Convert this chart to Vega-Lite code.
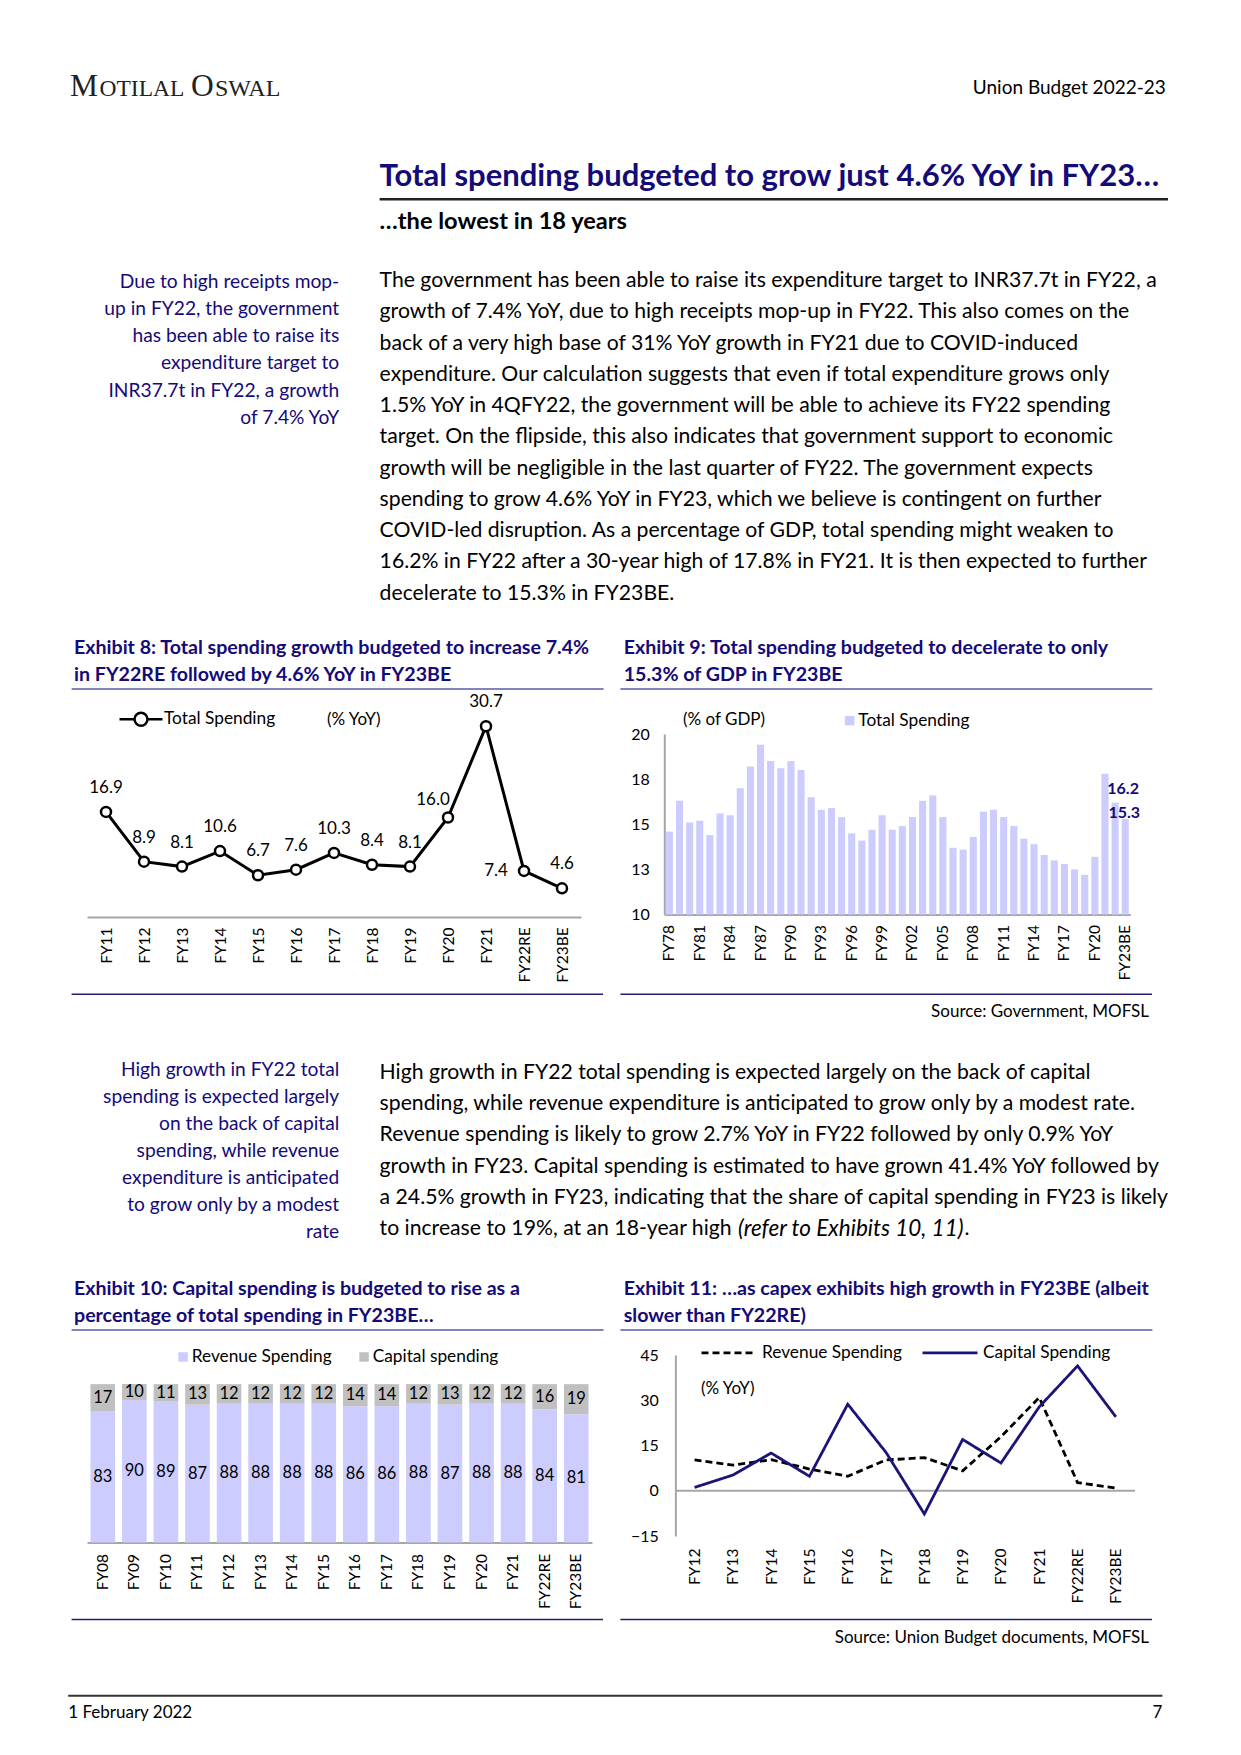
{
  "$schema": "https://vega.github.io/schema/vega-lite/v6.json",
  "background": "white",
  "padding": 0,
  "bounds": "flush",
  "spacing": 0,
  "resolve": {"scale": {"color": "independent", "strokeDash": "independent"}, "legend": {"color": "independent", "strokeDash": "independent"}},
  "config": {
    "view": {"stroke": null},
    "font": "Lato",
    "axis": {"labelFont": "Lato", "labelColor": "#000000", "grid": false, "ticks": false, "tickSize": 0, "title": null, "domainColor": "#A6A6A6", "domainWidth": 2},
    "legend": {"labelFont": "Lato", "labelColor": "#000000", "labelFontSize": 17.3, "padding": 0, "title": null},
    "text": {"font": "Lato"}
  },
  "datasets": {
    "ex8": [
      {"year": "FY11", "growth": 16.9}, {"year": "FY12", "growth": 8.9}, {"year": "FY13", "growth": 8.1},
      {"year": "FY14", "growth": 10.6}, {"year": "FY15", "growth": 6.7}, {"year": "FY16", "growth": 7.6},
      {"year": "FY17", "growth": 10.3}, {"year": "FY18", "growth": 8.4}, {"year": "FY19", "growth": 8.1},
      {"year": "FY20", "growth": 16.0}, {"year": "FY21", "growth": 30.7}, {"year": "FY22RE", "growth": 7.4},
      {"year": "FY23BE", "growth": 4.6}
    ],
    "ex9": [
      {"year": "FY78", "pct": 14.6}, {"year": "FY79", "pct": 16.3}, {"year": "FY80", "pct": 15.1}, {"year": "FY81", "pct": 15.2},
      {"year": "FY82", "pct": 14.4}, {"year": "FY83", "pct": 15.6}, {"year": "FY84", "pct": 15.5}, {"year": "FY85", "pct": 17.0},
      {"year": "FY86", "pct": 18.2}, {"year": "FY87", "pct": 19.4}, {"year": "FY88", "pct": 18.5}, {"year": "FY89", "pct": 18.1},
      {"year": "FY90", "pct": 18.5}, {"year": "FY91", "pct": 18.0}, {"year": "FY92", "pct": 16.5}, {"year": "FY93", "pct": 15.8},
      {"year": "FY94", "pct": 15.9}, {"year": "FY95", "pct": 15.4}, {"year": "FY96", "pct": 14.5}, {"year": "FY97", "pct": 14.1},
      {"year": "FY98", "pct": 14.7}, {"year": "FY99", "pct": 15.5}, {"year": "FY00", "pct": 14.7}, {"year": "FY01", "pct": 14.9},
      {"year": "FY02", "pct": 15.4}, {"year": "FY03", "pct": 16.3}, {"year": "FY04", "pct": 16.6}, {"year": "FY05", "pct": 15.4},
      {"year": "FY06", "pct": 13.7}, {"year": "FY07", "pct": 13.6}, {"year": "FY08", "pct": 14.3}, {"year": "FY09", "pct": 15.7},
      {"year": "FY10", "pct": 15.8}, {"year": "FY11", "pct": 15.4}, {"year": "FY12", "pct": 14.9}, {"year": "FY13", "pct": 14.2},
      {"year": "FY14", "pct": 13.9}, {"year": "FY15", "pct": 13.3}, {"year": "FY16", "pct": 13.0}, {"year": "FY17", "pct": 12.8},
      {"year": "FY18", "pct": 12.5}, {"year": "FY19", "pct": 12.2}, {"year": "FY20", "pct": 13.2}, {"year": "FY21", "pct": 17.8},
      {"year": "FY22RE", "pct": 16.2}, {"year": "FY23BE", "pct": 15.3}
    ],
    "ex10": [
      {"year": "FY08", "type": "Revenue Spending", "share": 83}, {"year": "FY08", "type": "Capital spending", "share": 17},
      {"year": "FY09", "type": "Revenue Spending", "share": 90}, {"year": "FY09", "type": "Capital spending", "share": 10},
      {"year": "FY10", "type": "Revenue Spending", "share": 89}, {"year": "FY10", "type": "Capital spending", "share": 11},
      {"year": "FY11", "type": "Revenue Spending", "share": 87}, {"year": "FY11", "type": "Capital spending", "share": 13},
      {"year": "FY12", "type": "Revenue Spending", "share": 88}, {"year": "FY12", "type": "Capital spending", "share": 12},
      {"year": "FY13", "type": "Revenue Spending", "share": 88}, {"year": "FY13", "type": "Capital spending", "share": 12},
      {"year": "FY14", "type": "Revenue Spending", "share": 88}, {"year": "FY14", "type": "Capital spending", "share": 12},
      {"year": "FY15", "type": "Revenue Spending", "share": 88}, {"year": "FY15", "type": "Capital spending", "share": 12},
      {"year": "FY16", "type": "Revenue Spending", "share": 86}, {"year": "FY16", "type": "Capital spending", "share": 14},
      {"year": "FY17", "type": "Revenue Spending", "share": 86}, {"year": "FY17", "type": "Capital spending", "share": 14},
      {"year": "FY18", "type": "Revenue Spending", "share": 88}, {"year": "FY18", "type": "Capital spending", "share": 12},
      {"year": "FY19", "type": "Revenue Spending", "share": 87}, {"year": "FY19", "type": "Capital spending", "share": 13},
      {"year": "FY20", "type": "Revenue Spending", "share": 88}, {"year": "FY20", "type": "Capital spending", "share": 12},
      {"year": "FY21", "type": "Revenue Spending", "share": 88}, {"year": "FY21", "type": "Capital spending", "share": 12},
      {"year": "FY22RE", "type": "Revenue Spending", "share": 84}, {"year": "FY22RE", "type": "Capital spending", "share": 16},
      {"year": "FY23BE", "type": "Revenue Spending", "share": 81}, {"year": "FY23BE", "type": "Capital spending", "share": 19}
    ],
    "ex11": [
      {"year": "FY12", "series": "Revenue Spending", "growth": 10.2}, {"year": "FY13", "series": "Revenue Spending", "growth": 8.5},
      {"year": "FY14", "series": "Revenue Spending", "growth": 10.3}, {"year": "FY15", "series": "Revenue Spending", "growth": 7.2},
      {"year": "FY16", "series": "Revenue Spending", "growth": 4.8}, {"year": "FY17", "series": "Revenue Spending", "growth": 10.2},
      {"year": "FY18", "series": "Revenue Spending", "growth": 11.0}, {"year": "FY19", "series": "Revenue Spending", "growth": 6.6},
      {"year": "FY20", "series": "Revenue Spending", "growth": 17.9}, {"year": "FY21", "series": "Revenue Spending", "growth": 30.9},
      {"year": "FY22RE", "series": "Revenue Spending", "growth": 2.7}, {"year": "FY23BE", "series": "Revenue Spending", "growth": 0.9},
      {"year": "FY12", "series": "Capital Spending", "growth": 1.1}, {"year": "FY13", "series": "Capital Spending", "growth": 5.2},
      {"year": "FY14", "series": "Capital Spending", "growth": 12.5}, {"year": "FY15", "series": "Capital Spending", "growth": 4.8},
      {"year": "FY16", "series": "Capital Spending", "growth": 28.7}, {"year": "FY17", "series": "Capital Spending", "growth": 12.7},
      {"year": "FY18", "series": "Capital Spending", "growth": -7.7}, {"year": "FY19", "series": "Capital Spending", "growth": 17.0},
      {"year": "FY20", "series": "Capital Spending", "growth": 9.2}, {"year": "FY21", "series": "Capital Spending", "growth": 27.8},
      {"year": "FY22RE", "series": "Capital Spending", "growth": 41.4}, {"year": "FY23BE", "series": "Capital Spending", "growth": 24.5}
    ],
    "note1": [
      {"line": 1, "text": "Due to high receipts mop-"},
      {"line": 2, "text": "up in FY22, the government"},
      {"line": 3, "text": "has been able to raise its"},
      {"line": 4, "text": "expenditure target to"},
      {"line": 5, "text": "INR37.7t in FY22, a growth"},
      {"line": 6, "text": "of 7.4% YoY"}
    ],
    "body1": [
      {"line": 1, "text": "The government has been able to raise its expenditure target to INR37.7t in FY22, a"},
      {"line": 2, "text": "growth of 7.4% YoY, due to high receipts mop-up in FY22. This also comes on the"},
      {"line": 3, "text": "back of a very high base of 31% YoY growth in FY21 due to COVID-induced"},
      {"line": 4, "text": "expenditure. Our calculation suggests that even if total expenditure grows only"},
      {"line": 5, "text": "1.5% YoY in 4QFY22, the government will be able to achieve its FY22 spending"},
      {"line": 6, "text": "target. On the flipside, this also indicates that government support to economic"},
      {"line": 7, "text": "growth will be negligible in the last quarter of FY22. The government expects"},
      {"line": 8, "text": "spending to grow 4.6% YoY in FY23, which we believe is contingent on further"},
      {"line": 9, "text": "COVID-led disruption. As a percentage of GDP, total spending might weaken to"},
      {"line": 10, "text": "16.2% in FY22 after a 30-year high of 17.8% in FY21. It is then expected to further"},
      {"line": 11, "text": "decelerate to 15.3% in FY23BE."}
    ],
    "note2": [
      {"line": 1, "text": "High growth in FY22 total"},
      {"line": 2, "text": "spending is expected largely"},
      {"line": 3, "text": "on the back of capital"},
      {"line": 4, "text": "spending, while revenue"},
      {"line": 5, "text": "expenditure is anticipated"},
      {"line": 6, "text": "to grow only by a modest"},
      {"line": 7, "text": "rate"}
    ],
    "body2": [
      {"line": 1, "text": "High growth in FY22 total spending is expected largely on the back of capital"},
      {"line": 2, "text": "spending, while revenue expenditure is anticipated to grow only by a modest rate."},
      {"line": 3, "text": "Revenue spending is likely to grow 2.7% YoY in FY22 followed by only 0.9% YoY"},
      {"line": 4, "text": "growth in FY23. Capital spending is estimated to have grown 41.4% YoY followed by"},
      {"line": 5, "text": "a 24.5% growth in FY23, indicating that the share of capital spending in FY23 is likely"},
      {"line": 6, "text": "to increase to 19%, at an 18-year high"}
    ]
  },
  "vconcat": [
    {
      "width": 1089,
      "height": 672.7,
      "resolve": {"scale": {"y": "independent"}},
      "layer": [
        {"data": {"values": [{}]}, "mark": {"type": "rule", "stroke": "#ffffff", "strokeWidth": 1}, "encoding": {"x": {"value": -86}, "x2": {"value": 1155}, "y": {"value": -60}, "y2": {"value": -60}}},
        {"data": {"values": [{}]}, "mark": {"type": "text", "text": "M", "x": -17, "y": 34.5, "align": "left", "baseline": "alphabetic", "font": "Liberation Serif", "fontSize": 31.5, "color": "#222222"}},
        {"data": {"values": [{}]}, "mark": {"type": "text", "text": "OTILAL", "x": 12.5, "y": 34.5, "align": "left", "baseline": "alphabetic", "font": "Liberation Serif", "fontSize": 23.5, "color": "#222222"}},
        {"data": {"values": [{}]}, "mark": {"type": "text", "text": "O", "x": 104, "y": 34.5, "align": "left", "baseline": "alphabetic", "font": "Liberation Serif", "fontSize": 31.5, "color": "#222222"}},
        {"data": {"values": [{}]}, "mark": {"type": "text", "text": "SWAL", "x": 128, "y": 34.5, "align": "left", "baseline": "alphabetic", "font": "Liberation Serif", "fontSize": 24, "color": "#222222"}},
        {"data": {"values": [{}]}, "mark": {"type": "text", "text": "Union Budget 2022-23", "x": 1078.8, "y": 27.4, "align": "right", "baseline": "middle", "fontSize": 19, "color": "#000000"}},
        {"data": {"values": [{}]}, "mark": {"type": "text", "text": "Total spending budgeted to grow just 4.6% YoY in FY23…", "x": 292.6, "y": 115.8, "align": "left", "baseline": "middle", "fontSize": 31, "fontWeight": "bold", "color": "#140A78"}},
        {"data": {"values": [{}]}, "mark": {"type": "rule", "stroke": "#222222", "strokeWidth": 2.5}, "encoding": {"x": {"value": 292.6}, "x2": {"value": 1081}, "y": {"value": 138.2}, "y2": {"value": 138.2}}},
        {"data": {"values": [{}]}, "mark": {"type": "text", "text": "…the lowest in 18 years", "x": 292.6, "y": 160.6, "align": "left", "baseline": "middle", "fontSize": 23.6, "fontWeight": "bold", "color": "#000000"}},
        {
          "data": {"name": "note1"},
          "mark": {"type": "text", "x": 252.2, "align": "right", "baseline": "middle", "fontSize": 19.2, "color": "#140A78"},
          "encoding": {
            "y": {"field": "line", "type": "ordinal", "scale": {"type": "point", "range": [221.1, 356.6], "padding": 0}, "axis": null},
            "text": {"field": "text"}
          }
        },
        {
          "data": {"name": "body1"},
          "mark": {"type": "text", "x": 292.6, "align": "left", "baseline": "middle", "fontSize": 21.2, "color": "#000000"},
          "encoding": {
            "y": {"field": "line", "type": "ordinal", "scale": {"type": "point", "range": [220, 532.5], "padding": 0}, "axis": null},
            "text": {"field": "text"}
          }
        }
      ]
    },
    {
      "width": 1089,
      "height": 182.9,
      "resolve": {"scale": {"x": "independent", "y": "independent", "color": "independent"}, "axis": {"x": "independent", "y": "independent"}, "legend": {"color": "independent"}},
      "layer": [
        {"data": {"values": [{}]}, "mark": {"type": "text", "text": ["Exhibit 8: Total spending growth budgeted to increase 7.4%", "in FY22RE followed by 4.6% YoY in FY23BE"], "lineHeight": 26.9, "x": -13, "y": -80.3, "align": "left", "baseline": "alphabetic", "fontSize": 19.6, "fontWeight": "bold", "color": "#140A78"}},
        {"data": {"values": [{}]}, "mark": {"type": "rule", "stroke": "#5A5AA8", "strokeWidth": 1.5}, "encoding": {"x": {"value": -15.4}, "x2": {"value": 516.6}, "y": {"value": -45}, "y2": {"value": -45}}},
        {"data": {"values": [{}]}, "mark": {"type": "rule", "stroke": "#241C6E", "strokeWidth": 1.5}, "encoding": {"x": {"value": -15.4}, "x2": {"value": 516}, "y": {"value": 260.3}, "y2": {"value": 260.3}}},
        {"data": {"values": [{}]}, "mark": {"type": "text", "text": "(% YoY)", "x": 240, "y": -13.7, "align": "left", "baseline": "middle", "fontSize": 17, "color": "#000000"}},
        {"data": {"values": [{}]}, "mark": {"type": "text", "text": ["Exhibit 9: Total spending budgeted to decelerate to only", "15.3% of GDP in FY23BE"], "lineHeight": 26.9, "x": 536.7, "y": -80.3, "align": "left", "baseline": "alphabetic", "fontSize": 19.6, "fontWeight": "bold", "color": "#140A78"}},
        {"data": {"values": [{}]}, "mark": {"type": "rule", "stroke": "#5A5AA8", "strokeWidth": 1.5}, "encoding": {"x": {"value": 533.4}, "x2": {"value": 1065.4}, "y": {"value": -45}, "y2": {"value": -45}}},
        {"data": {"values": [{}]}, "mark": {"type": "rule", "stroke": "#241C6E", "strokeWidth": 1.5}, "encoding": {"x": {"value": 533.4}, "x2": {"value": 1065}, "y": {"value": 260.3}, "y2": {"value": 260.3}}},
        {"data": {"values": [{}]}, "mark": {"type": "text", "text": "(% of GDP)", "x": 596, "y": -13.7, "align": "left", "baseline": "middle", "fontSize": 17, "color": "#000000"}},
        {"data": {"values": [{}]}, "mark": {"type": "text", "text": "Source: Government, MOFSL", "x": 1062, "y": 277.5, "align": "right", "baseline": "middle", "fontSize": 17, "color": "#000000"}},
        {
          "layer": [
            {
              "data": {"name": "ex8"},
              "mark": {"type": "line", "strokeWidth": 3},
              "encoding": {
                "x": {"field": "year", "type": "ordinal", "sort": null, "scale": {"range": [0, 494]}, "axis": {"orient": "bottom", "labelAngle": -90, "labelFontSize": 15.5, "labelPadding": 10}},
                "y": {"field": "growth", "type": "quantitative", "scale": {"domain": [0, 29.45], "nice": false, "zero": false, "range": [182.9, 0]}, "axis": null},
                "color": {"datum": "Total Spending", "type": "nominal", "scale": {"range": ["#000000"]},
                  "legend": {"orient": "none", "legendX": 31, "legendY": -37.7, "symbolType": "M-1,0H-0.3M0.3,0H1M0.3,0A0.3,0.3,0,1,1,-0.3,0A0.3,0.3,0,1,1,0.3,0Z", "symbolSize": 1849, "symbolStrokeWidth": 2.5, "labelOffset": 0,
                    "encode": {"symbols": {"update": {"fill": {"value": "#ffffff"}, "stroke": {"value": "#000000"}, "strokeWidth": {"value": 2.5}}}}}}
              }
            },
            {
              "data": {"name": "ex8"},
              "mark": {"type": "point", "filled": true, "fill": "#ffffff", "stroke": "#000000", "strokeWidth": 2.5, "size": 100, "opacity": 1},
              "encoding": {
                "x": {"field": "year", "type": "ordinal", "sort": null},
                "y": {"field": "growth", "type": "quantitative"}
              }
            },
            {
              "data": {"name": "ex8"},
              "transform": [{"filter": "datum.year !== 'FY20' && datum.year !== 'FY22RE'"}],
              "mark": {"type": "text", "dy": -24, "fontSize": 17, "color": "#000000", "baseline": "middle"},
              "encoding": {
                "x": {"field": "year", "type": "ordinal", "sort": null},
                "y": {"field": "growth", "type": "quantitative"},
                "text": {"field": "growth", "type": "quantitative", "format": ".1f"}
              }
            },
            {
              "data": {"name": "ex8"},
              "transform": [{"filter": "datum.year === 'FY20'"}],
              "mark": {"type": "text", "dx": -15, "dy": -18, "fontSize": 17, "color": "#000000", "baseline": "middle"},
              "encoding": {
                "x": {"field": "year", "type": "ordinal", "sort": null},
                "y": {"field": "growth", "type": "quantitative"},
                "text": {"field": "growth", "type": "quantitative", "format": ".1f"}
              }
            },
            {
              "data": {"name": "ex8"},
              "transform": [{"filter": "datum.year === 'FY22RE'"}],
              "mark": {"type": "text", "dx": -28, "dy": 0, "fontSize": 17, "color": "#000000", "baseline": "middle"},
              "encoding": {
                "x": {"field": "year", "type": "ordinal", "sort": null},
                "y": {"field": "growth", "type": "quantitative"},
                "text": {"field": "growth", "type": "quantitative", "format": ".1f"}
              }
            }
          ]
        },
        {
          "layer": [
            {
              "data": {"name": "ex9"},
              "mark": {"type": "bar"},
              "encoding": {
                "x": {"field": "year", "type": "ordinal", "sort": null, "scale": {"paddingInner": 0.3, "paddingOuter": 0.15, "range": [577.3, 1043.3]},
                  "axis": {"orient": "bottom", "offset": -2.3, "labelAngle": -90, "labelFontSize": 15.5, "labelPadding": 10, "labelOverlap": false, "labelBound": false,
                    "labelExpr": "indexof(['FY78','FY81','FY84','FY87','FY90','FY93','FY96','FY99','FY02','FY05','FY08','FY11','FY14','FY17','FY20','FY23BE'], datum.value) >= 0 ? datum.value : ''"}},
                "y": {"field": "pct", "type": "quantitative", "scale": {"domain": [10, 20], "nice": false, "zero": false, "range": [180.6, 0]},
                  "axis": {"orient": "left", "offset": -577.3, "values": [10, 12.5, 15, 17.5, 20], "format": ".0f", "labelFontSize": 16, "labelPadding": 15}},
                "y2": {"datum": 10},
                "color": {"datum": "Total Spending", "type": "nominal", "scale": {"range": ["#CCCCFF"]},
                  "legend": {"orient": "none", "legendX": 754, "legendY": -22, "symbolType": "square", "symbolSize": 90, "labelOffset": 0}}
              }
            },
            {
              "data": {"name": "ex9"},
              "transform": [{"filter": "datum.year === 'FY22RE'"}],
              "mark": {"type": "text", "dx": 8, "dy": -14, "fontSize": 16, "fontWeight": "bold", "color": "#140A78", "baseline": "middle"},
              "encoding": {
                "x": {"field": "year", "type": "ordinal", "sort": null},
                "y": {"field": "pct", "type": "quantitative"},
                "text": {"field": "pct", "type": "quantitative", "format": ".1f"}
              }
            },
            {
              "data": {"name": "ex9"},
              "transform": [{"filter": "datum.year === 'FY23BE'"}],
              "mark": {"type": "text", "dx": -1, "dy": -5.6, "fontSize": 16, "fontWeight": "bold", "color": "#140A78", "baseline": "middle"},
              "encoding": {
                "x": {"field": "year", "type": "ordinal", "sort": null},
                "y": {"field": "pct", "type": "quantitative"},
                "text": {"field": "pct", "type": "quantitative", "format": ".1f"}
              }
            }
          ]
        }
      ]
    },
    {
      "width": 1089,
      "height": 437.7,
      "resolve": {"scale": {"y": "independent"}},
      "layer": [
        {
          "data": {"name": "note2"},
          "mark": {"type": "text", "x": 252.2, "align": "right", "baseline": "middle", "fontSize": 19.2, "color": "#140A78"},
          "encoding": {
            "y": {"field": "line", "type": "ordinal", "scale": {"type": "point", "range": [152.9, 315.3], "padding": 0}, "axis": null},
            "text": {"field": "text"}
          }
        },
        {
          "data": {"name": "body2"},
          "mark": {"type": "text", "x": 292.6, "align": "left", "baseline": "middle", "fontSize": 21.2, "color": "#000000"},
          "encoding": {
            "y": {"field": "line", "type": "ordinal", "scale": {"type": "point", "range": [156.2, 311.9], "padding": 0}, "axis": null},
            "text": {"field": "text"}
          }
        },
        {"data": {"values": [{}]}, "mark": {"type": "text", "text": "(refer to Exhibits 10, 11)", "x": 651, "y": 311.9, "align": "left", "baseline": "middle", "fontSize": 22.5, "fontStyle": "italic", "color": "#000000"}},
        {"data": {"values": [{}]}, "mark": {"type": "text", "text": ".", "x": 877.6, "y": 311.9, "align": "left", "baseline": "middle", "fontSize": 21.2, "color": "#000000"}}
      ]
    },
    {
      "width": 1089,
      "height": 187.4,
      "resolve": {"scale": {"x": "independent", "y": "independent", "color": "independent", "strokeDash": "independent"}, "axis": {"x": "independent", "y": "independent"}, "legend": {"color": "independent", "strokeDash": "independent"}},
      "layer": [
        {"data": {"values": [{}]}, "mark": {"type": "text", "text": ["Exhibit 10: Capital spending is budgeted to rise as a", "percentage of total spending in FY23BE…"], "lineHeight": 26.9, "x": -13, "y": -60.2, "align": "left", "baseline": "alphabetic", "fontSize": 19.6, "fontWeight": "bold", "color": "#140A78"}},
        {"data": {"values": [{}]}, "mark": {"type": "rule", "stroke": "#5A5AA8", "strokeWidth": 1.5}, "encoding": {"x": {"value": -15.4}, "x2": {"value": 516.6}, "y": {"value": -25}, "y2": {"value": -25}}},
        {"data": {"values": [{}]}, "mark": {"type": "rule", "stroke": "#241C6E", "strokeWidth": 1.5}, "encoding": {"x": {"value": -15.4}, "x2": {"value": 516}, "y": {"value": 264.4}, "y2": {"value": 264.4}}},
        {"data": {"values": [{}]}, "mark": {"type": "text", "text": ["Exhibit 11: …as capex exhibits high growth in FY23BE (albeit", "slower than FY22RE)"], "lineHeight": 26.9, "x": 536.7, "y": -60.2, "align": "left", "baseline": "alphabetic", "fontSize": 19.6, "fontWeight": "bold", "color": "#140A78"}},
        {"data": {"values": [{}]}, "mark": {"type": "rule", "stroke": "#5A5AA8", "strokeWidth": 1.5}, "encoding": {"x": {"value": 533.4}, "x2": {"value": 1065.4}, "y": {"value": -25}, "y2": {"value": -25}}},
        {"data": {"values": [{}]}, "mark": {"type": "rule", "stroke": "#241C6E", "strokeWidth": 1.5}, "encoding": {"x": {"value": 533.4}, "x2": {"value": 1065}, "y": {"value": 264.4}, "y2": {"value": 264.4}}},
        {"data": {"values": [{}]}, "mark": {"type": "text", "text": "(% YoY)", "x": 614, "y": 33.7, "align": "left", "baseline": "middle", "fontSize": 17, "color": "#000000"}},
        {"data": {"values": [{}]}, "mark": {"type": "text", "text": "Source: Union Budget documents, MOFSL", "x": 1062, "y": 283, "align": "right", "baseline": "middle", "fontSize": 17, "color": "#000000"}},
        {"data": {"values": [{}]}, "mark": {"type": "rule", "color": "#A6A6A6", "strokeWidth": 2}, "encoding": {"x": {"value": 588.4}, "x2": {"value": 1048}, "y": {"value": 135.75}, "y2": {"value": 135.75}}},
        {
          "resolve": {"scale": {"y": "independent"}, "axis": {"y": "independent"}},
          "layer": [
            {
              "data": {"name": "ex10"},
              "transform": [{"stack": "share", "groupby": ["year"], "as": ["s0", "s1"], "sort": [{"field": "type", "order": "descending"}]}],
              "mark": {"type": "bar"},
              "encoding": {
                "x": {"field": "year", "type": "ordinal", "sort": null, "scale": {"paddingInner": 0.22, "paddingOuter": 0.11, "range": [0, 505]},
                  "axis": {"orient": "bottom", "labelAngle": -90, "labelFontSize": 15.5, "labelPadding": 11}},
                "y": {"field": "s0", "type": "quantitative", "scale": {"domain": [0, 118.4], "nice": false, "range": [187.4, 0]}, "axis": null},
                "y2": {"field": "s1"},
                "color": {"field": "type", "type": "nominal", "scale": {"domain": ["Revenue Spending", "Capital spending"], "range": ["#CCCCFF", "#C0C0C0"]},
                  "legend": {"orient": "none", "direction": "horizontal", "legendX": 87.4, "legendY": -6.7, "symbolType": "square", "symbolSize": 90, "labelOffset": 0, "columnPadding": 23}}
              }
            },
            {
              "data": {"name": "ex10"},
              "transform": [{"filter": "datum.type === 'Revenue Spending'"}],
              "mark": {"type": "text", "fontSize": 16.5, "color": "#000000", "baseline": "middle"},
              "encoding": {
                "x": {"field": "year", "type": "ordinal", "sort": null},
                "y": {"field": "share", "type": "quantitative", "scale": {"domain": [0, 236.8], "nice": false, "zero": false, "range": [187.4, 0]}, "axis": null},
                "text": {"field": "share", "type": "quantitative", "format": ".0f"}
              }
            },
            {
              "data": {"name": "ex10"},
              "transform": [{"filter": "datum.type === 'Capital spending'"}],
              "mark": {"type": "text", "fontSize": 16.5, "color": "#000000", "baseline": "middle"},
              "encoding": {
                "x": {"field": "year", "type": "ordinal", "sort": null},
                "y": {"field": "share", "type": "quantitative", "scale": {"domain": [200, -36.8], "nice": false, "zero": false, "range": [187.4, 0]}, "axis": null},
                "text": {"field": "share", "type": "quantitative", "format": ".0f"}
              }
            }
          ]
        },
        {
          "layer": [
            {
              "data": {"name": "ex11"},
              "mark": {"type": "line", "strokeWidth": 2.8},
              "encoding": {
                "x": {"field": "year", "type": "ordinal", "sort": null, "scale": {"range": [588.4, 1048]}, "axis": {"orient": "bottom", "offset": -6.4, "labelAngle": -90, "labelFontSize": 15.5, "labelPadding": 12, "domain": false}},
                "y": {"field": "growth", "type": "quantitative", "scale": {"domain": [-15, 45], "nice": false, "zero": false, "range": [181, 0]},
                  "axis": {"orient": "left", "offset": -588.4, "values": [-15, 0, 15, 30, 45], "labelFontSize": 16, "labelPadding": 17}},
                "color": {"field": "series", "type": "nominal", "scale": {"domain": ["Revenue Spending", "Capital Spending"], "range": ["#000000", "#1A1478"]},
                  "legend": {"orient": "none", "direction": "horizontal", "legendX": 613, "legendY": -31.5, "symbolType": "stroke", "symbolSize": 3025, "symbolStrokeWidth": 2.8, "labelOffset": 4, "columnPadding": 14}},
                "strokeDash": {"field": "series", "type": "nominal", "scale": {"domain": ["Revenue Spending", "Capital Spending"], "range": [[7, 4], [1, 0]]},
                  "legend": {"orient": "none", "direction": "horizontal", "legendX": 613, "legendY": -31.5, "symbolType": "stroke", "symbolSize": 3025, "symbolStrokeWidth": 2.8, "labelOffset": 4, "columnPadding": 14}}
              }
            }
          ]
        }
      ]
    },
    {
      "width": 1089,
      "height": 214.3,
      "layer": [
        {"data": {"values": [{}]}, "mark": {"type": "rule", "stroke": "#333333", "strokeWidth": 2}, "encoding": {"x": {"value": -18.8}, "x2": {"value": 1075.4}, "y": {"value": 152.7}, "y2": {"value": 152.7}}},
        {"data": {"values": [{}]}, "mark": {"type": "text", "text": "1 February 2022", "x": -18.8, "y": 169.5, "align": "left", "baseline": "middle", "fontSize": 17, "color": "#000000"}},
        {"data": {"values": [{}]}, "mark": {"type": "text", "text": "7", "x": 1075.4, "y": 169.5, "align": "right", "baseline": "middle", "fontSize": 17, "color": "#000000"}}
      ]
    }
  ]
}
